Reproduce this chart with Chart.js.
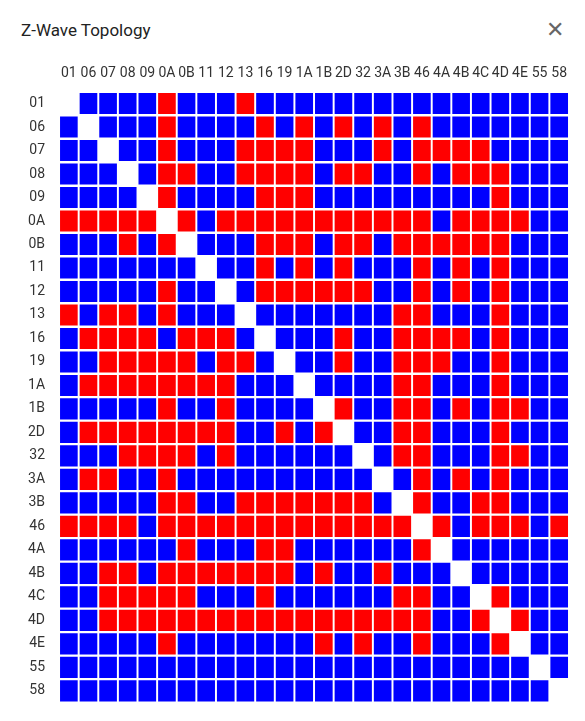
<!DOCTYPE html>
<html>
<head>
<meta charset="utf-8">
<script src="https://cdn.jsdelivr.net/npm/chart.js@4/dist/chart.umd.min.js"></script>
<style>
  body { margin: 0; background: #fff; font-family: Roboto, sans-serif; }
  .title { position: absolute; left: 21px; top: 20px; font-size: 17px; color: #222; }
  .close { position: absolute; left: 546px; top: 17px; font-size: 22px; color: #666; }
  #wrap { position: absolute; left: 0; top: 63px; width: 585px; height: 654px; }
</style>
</head>
<body>
<div class="title">Z-Wave Topology</div>
<div class="close">&#x2715;</div>
<div id="wrap"><canvas id="topo"></canvas></div>
<script>
// Node ids (same order for rows and columns)
var nodes = ['01','06','07','08','09','0A','0B','11','12','13','16','19','1A','1B','2D','32','3A','3B','46','4A','4B','4C','4D','4E','55','58'];

// One string per row: R = red link, B = blue link, - = self
var links = [
    '-BBBBRBBBRBBBBBBBBBBBBBBBB',
    'B-BBBRBBBBRBRBRBRBRBBBBBBB',
    'BB-BBRBBBRRRRBBBRBRRRRBBBB',
    'BBB-BRRBBRRRRBRRBBRBRRRBBB',
    'BBBB-RBBBBRRRBBBBBBBBBRBBB',
    'RRRRR-RBRRRRRRRRRRRBRRRRBB',
    'BBBRBR-BBBRRRBRRBRRRRRRBBB',
    'BBBBBBB-BBRBRBRBBBRBRBRBBB',
    'BBBBBRBB-BRRRRRRBBRBRBRBBB',
    'RBRRBRBBB-BBBBBBBRRBBBRBBB',
    'BRRRRBRRRB-BBBRBBRRRRBRBBB',
    'BBRRRRRBRRB-BBRBBRRRBBRBBB',
    'BRRRRRRRRBBB-BBBBRRBBBRBBB',
    'BBBBBRBBRBBBB-RBBRRBRBRRBB',
    'BRRRRRRRRBBRBR-BBRRBBBRBBB',
    'BBBRRRRBRBBBBBB-BRRBBBRRBB',
    'BRRBBRBBBBBBBBBB-BRBRBRBBB',
    'BBBBBRRBBRRRRRRRB-RBBRRBBB',
    'RRRRBRRRRRRRRRRRRR-RBRRRBR',
    'BBBBBBRBBBRRBBBBBBR-BBBBBB',
    'BBRRBRRRRRRRBRBBRBBB-BBBBB',
    'BBRRRRRBBBRBBBBBBRRBB-RBBB',
    'BBRRRRRRRRRRRRRRRRRBBR-RBB',
    'BBBBBRBBBBBBBRBRBBRBBBR-BB',
    'BBBBBBBBBBBBBBBBBBBBBBBB-B',
    'BBBBBBBBBBBBBBBBBBBBBBBBB-'
];

var RED = '#ff0000';
var BLUE = '#0000ff';

// one floating-bar dataset per row, all overlapping on the category axis
var datasets = links.map(function (row, r) {
    var data = [], colors = [];
    for (var c = 0; c < nodes.length; c++) {
        var ch = row[c];
        data.push(ch === '-' ? null : [r - 0.45, r + 0.45]);
        colors.push(ch === 'R' ? RED : BLUE);
    }
    return {
        label: nodes[r],
        data: data,
        backgroundColor: colors,
        borderWidth: 0,
        grouped: false,
        barPercentage: 0.9,
        categoryPercentage: 1.0
    };
});

Chart.defaults.font.family = 'Roboto, sans-serif';
Chart.defaults.font.size = 14;
Chart.defaults.color = '#333';

new Chart(document.getElementById('topo').getContext('2d'), {
    type: 'bar',
    data: { labels: nodes, datasets: datasets },
    options: {
        responsive: true,
        maintainAspectRatio: false,
        animation: false,
        layout: { padding: { left: 22, right: 16, top: 0, bottom: 0 } },
        scales: {
            x: {
                position: 'top',
                grid: { display: false },
                border: { display: false },
                ticks: { maxRotation: 0, autoSkip: false, padding: 2 }
            },
            y: {
                reverse: true,
                min: -0.5,
                max: 25.5,
                grid: { display: false },
                border: { display: false },
                afterBuildTicks: function (axis) {
                    axis.ticks = nodes.map(function (n, i) { return { value: i }; });
                },
                ticks: {
                    autoSkip: false,
                    padding: 6,
                    callback: function (v) { return nodes[v]; }
                }
            }
        },
        plugins: {
            legend: { display: false },
            tooltip: { enabled: false }
        }
    }
});
</script>
</body>
</html>
